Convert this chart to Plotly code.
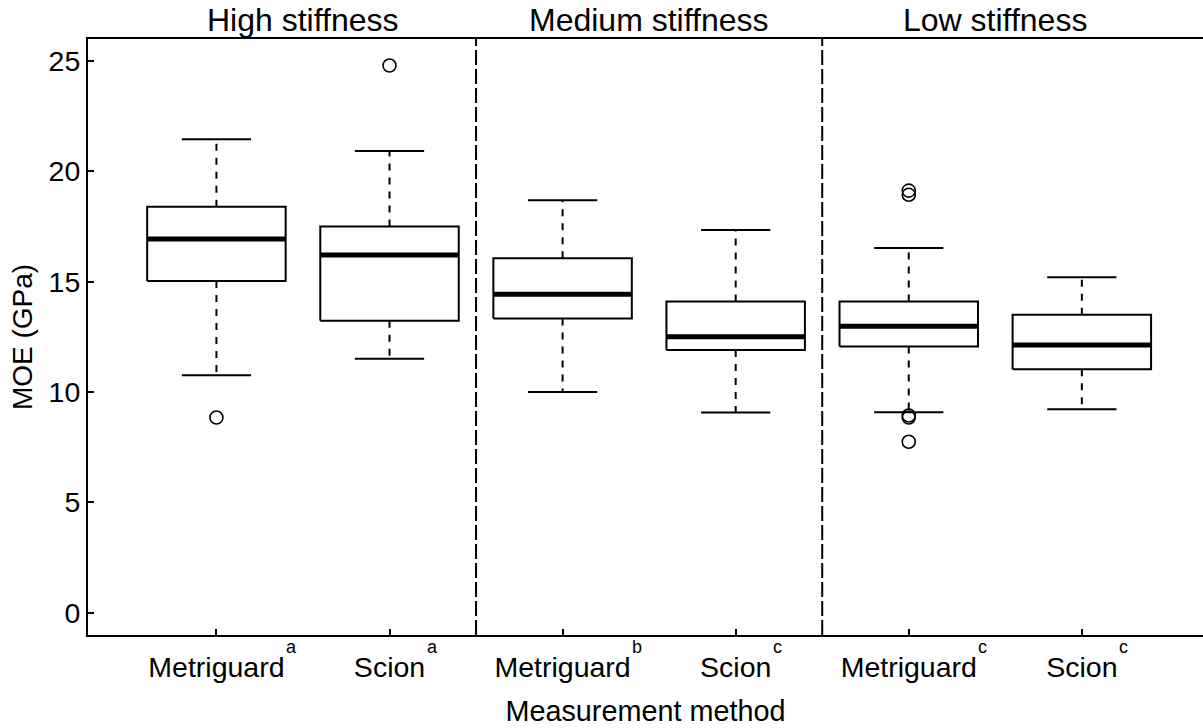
import plotly.graph_objects as go

# ---- data ----
groups = ["High stiffness", "Medium stiffness", "Low stiffness"]
methods = ["Metriguard", "Scion", "Metriguard", "Scion", "Metriguard", "Scion"]
letters = ["a", "a", "b", "c", "c", "c"]
lower_whisker = [10.75, 11.50, 9.99, 9.07, 9.08, 9.21]
q1 = [15.02, 13.22, 13.32, 11.90, 12.06, 11.03]
median = [16.93, 16.20, 14.42, 12.50, 12.97, 12.12]
q3 = [18.39, 17.49, 16.05, 14.10, 14.10, 13.50]
upper_whisker = [21.45, 20.92, 18.68, 17.34, 16.52, 15.19]
outliers = [[8.84], [24.79], [], [], [19.12, 18.93, 8.93, 8.84, 7.74], []]

FONT = "Liberation Sans, Arial, sans-serif"
BOXW = 0.8
CAPW = 0.4

pos = list(range(1, len(methods) + 1))

box_x, box_y = [], []
med_x, med_y = [], []
wh_x, wh_y = [], []
cap_x, cap_y = [], []
out_x, out_y = [], []
for i, p in enumerate(pos):
    l, r = p - BOXW / 2, p + BOXW / 2
    box_x += [l, r, r, l, l, None]
    box_y += [q1[i], q1[i], q3[i], q3[i], q1[i], None]
    med_x += [l, r, None]
    med_y += [median[i], median[i], None]
    wh_x += [p, p, None, p, p, None]
    wh_y += [q3[i], upper_whisker[i], None, q1[i], lower_whisker[i], None]
    cl, cr = p - CAPW / 2, p + CAPW / 2
    cap_x += [cl, cr, None, cl, cr, None]
    cap_y += [upper_whisker[i], upper_whisker[i], None, lower_whisker[i], lower_whisker[i], None]
    for v in outliers[i]:
        out_x.append(p)
        out_y.append(v)

fig = go.Figure()
fig.add_trace(go.Scatter(x=wh_x, y=wh_y, mode="lines",
                         line=dict(color="black", width=2, dash="7px,7px"),
                         hoverinfo="skip", showlegend=False))
fig.add_trace(go.Scatter(x=cap_x, y=cap_y, mode="lines",
                         line=dict(color="black", width=2),
                         hoverinfo="skip", showlegend=False))
fig.add_trace(go.Scatter(x=box_x, y=box_y, mode="lines", fill="toself",
                         fillcolor="white", line=dict(color="black", width=2),
                         hoverinfo="skip", showlegend=False))
fig.add_trace(go.Scatter(x=med_x, y=med_y, mode="lines",
                         line=dict(color="black", width=5),
                         hoverinfo="skip", showlegend=False))
fig.add_trace(go.Scatter(x=out_x, y=out_y, mode="markers",
                         marker=dict(symbol="circle-open", size=13, color="black",
                                     line=dict(width=1.6, color="black")),
                         showlegend=False))

# group separators (between groups of two)
per_group = len(methods) // len(groups)
for g in range(1, len(groups)):
    xs = g * per_group + 0.5
    fig.add_shape(type="line", xref="x", yref="paper", x0=xs, x1=xs, y0=0, y1=1,
                  line=dict(color="black", width=2, dash="15px,4px"), layer="below")

# group titles
for g, name in enumerate(groups):
    xc = g * per_group + (per_group + 1) / 2
    fig.add_annotation(text=name, x=xc, xref="x", y=1, yref="paper",
                       yanchor="bottom", showarrow=False, yshift=-1,
                       font=dict(family=FONT, size=32, color="black"))

# superscript letters next to tick labels
AW = {"M": 833, "e": 556, "t": 278, "r": 333, "i": 222, "g": 556, "u": 556,
      "a": 556, "d": 556, "S": 667, "c": 500, "o": 556, "n": 556}
TICKFS = 28.5
for i, p in enumerate(pos):
    w = sum(AW.get(ch, 556) for ch in methods[i]) / 1000 * TICKFS
    fig.add_annotation(text=letters[i], x=p, xref="x", y=0, yref="paper",
                       xanchor="left", yanchor="top", xshift=w / 2 - 0.5, yshift=0,
                       showarrow=False, font=dict(family=FONT, size=18, color="black"))

fig.update_layout(
    width=1203, height=728,
    margin=dict(l=88, r=0, t=39, b=93),
    paper_bgcolor="white", plot_bgcolor="white",
    font=dict(family=FONT, color="black"),
    xaxis=dict(range=[0.258, 6.70], tickvals=pos, ticktext=methods,
               automargin=False,
               showgrid=False, zeroline=False, showline=True, mirror=True,
               linecolor="black", linewidth=2, ticks="inside", ticklen=6,
               tickwidth=2, tickcolor="black", ticklabelstandoff=6,
               tickfont=dict(family=FONT, size=TICKFS, color="black"),
               title=dict(text="Measurement method", standoff=19,
                          font=dict(family=FONT, size=28.8, color="black"))),
    yaxis=dict(range=[-1.016, 25.99], tickvals=[0, 5, 10, 15, 20, 25],
               automargin=False,
               showgrid=False, zeroline=False, showline=True,
               linecolor="black", linewidth=2, ticks="inside", ticklen=6,
               tickwidth=2, tickcolor="black",
               tickfont=dict(family=FONT, size=TICKFS, color="black"),
               title=dict(text="MOE (GPa)", standoff=8,
                          font=dict(family=FONT, size=28, color="black"))),
)

# remove the default 8px page margin so the figure sits at the window corner
fig.write_html("out.html",
               config={"displayModeBar": False},
               post_script="document.body.style.margin='0';document.body.style.overflow='hidden';")
